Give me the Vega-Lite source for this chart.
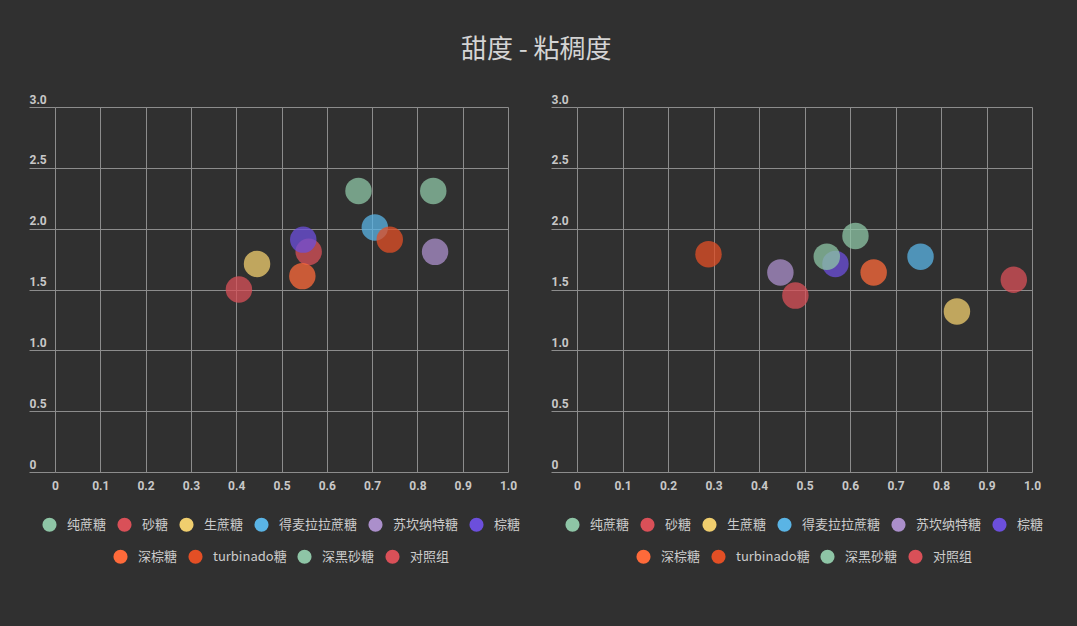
{
  "$schema": "https://vega.github.io/schema/vega-lite/v6.json",
  "background": "#303030",
  "padding": {"left": 28, "top": 37, "right": 37, "bottom": 62},
  "title": {
    "text": "甜度 - 粘稠度",
    "font": "Noto Sans CJK SC",
    "fontSize": 26,
    "fontWeight": "normal",
    "color": "#d4d4d4",
    "anchor": "middle",
    "offset": 30
  },
  "data": {
    "values": [
      {"panel": "A", "sugar": "纯蔗糖", "sweetness": 0.67, "viscosity": 2.31},
      {"panel": "A", "sugar": "砂糖", "sweetness": 0.56, "viscosity": 1.81},
      {"panel": "A", "sugar": "生蔗糖", "sweetness": 0.446, "viscosity": 1.71},
      {"panel": "A", "sugar": "得麦拉拉蔗糖", "sweetness": 0.706, "viscosity": 2.01},
      {"panel": "A", "sugar": "苏坎纳特糖", "sweetness": 0.839, "viscosity": 1.81},
      {"panel": "A", "sugar": "棕糖", "sweetness": 0.548, "viscosity": 1.91},
      {"panel": "A", "sugar": "深棕糖", "sweetness": 0.546, "viscosity": 1.61},
      {"panel": "A", "sugar": "turbinado糖", "sweetness": 0.739, "viscosity": 1.91},
      {"panel": "A", "sugar": "深黑砂糖", "sweetness": 0.835, "viscosity": 2.31},
      {"panel": "A", "sugar": "对照组", "sweetness": 0.406, "viscosity": 1.5},
      {"panel": "B", "sugar": "纯蔗糖", "sweetness": 0.612, "viscosity": 1.94},
      {"panel": "B", "sugar": "砂糖", "sweetness": 0.48, "viscosity": 1.45},
      {"panel": "B", "sugar": "生蔗糖", "sweetness": 0.835, "viscosity": 1.32},
      {"panel": "B", "sugar": "得麦拉拉蔗糖", "sweetness": 0.755, "viscosity": 1.77},
      {"panel": "B", "sugar": "苏坎纳特糖", "sweetness": 0.447, "viscosity": 1.64},
      {"panel": "B", "sugar": "棕糖", "sweetness": 0.568, "viscosity": 1.71},
      {"panel": "B", "sugar": "深棕糖", "sweetness": 0.652, "viscosity": 1.64},
      {"panel": "B", "sugar": "turbinado糖", "sweetness": 0.289, "viscosity": 1.79},
      {"panel": "B", "sugar": "深黑砂糖", "sweetness": 0.549, "viscosity": 1.77},
      {"panel": "B", "sugar": "对照组", "sweetness": 0.96, "viscosity": 1.58}
    ]
  },
  "bounds": "flush",
  "spacing": 69,
  "resolve": {"legend": {"color": "independent", "fill": "independent"}},
  "hconcat": [
    {
      "width": 453,
      "height": 365,
      "transform": [{"filter": "datum.panel === 'A'"}],
      "encoding": {
        "x": {
          "field": "sweetness",
          "type": "quantitative",
          "scale": {"domain": [0, 1], "nice": false},
          "axis": {"values": [0, 0.1, 0.2, 0.3, 0.4, 0.5, 0.6, 0.7, 0.8, 0.9, 1]}
        },
        "y": {
          "field": "viscosity",
          "type": "quantitative",
          "scale": {"domain": [0, 3], "nice": false},
          "axis": {"values": [0, 0.5, 1, 1.5, 2, 2.5, 3]}
        }
      },
      "layer": [
        {
          "transform": [{"filter": {"field": "sugar", "oneOf": ["纯蔗糖", "砂糖", "生蔗糖", "得麦拉拉蔗糖", "苏坎纳特糖", "棕糖"]}}],
          "mark": {"type": "circle", "size": 700, "opacity": 0.75},
          "encoding": {
            "color": {
              "field": "sugar",
              "type": "nominal",
              "scale": {
                "domain": ["纯蔗糖", "砂糖", "生蔗糖", "得麦拉拉蔗糖", "苏坎纳特糖", "棕糖"],
                "range": ["#8ec5a6", "#d95058", "#f0ce6e", "#5ab4e5", "#ab8fcb", "#6c4fdc"]
              }
            }
          }
        },
        {
          "transform": [{"filter": {"field": "sugar", "oneOf": ["深棕糖", "turbinado糖", "深黑砂糖", "对照组"]}}],
          "mark": {"type": "circle", "size": 700, "opacity": 0.75},
          "encoding": {
            "fill": {
              "field": "sugar",
              "type": "nominal",
              "scale": {
                "domain": ["深棕糖", "turbinado糖", "深黑砂糖", "对照组"],
                "range": ["#fe6a3a", "#e34f25", "#8ec5a6", "#d95058"]
              }
            }
          }
        }
      ]
    },
    {
      "width": 455,
      "height": 365,
      "transform": [{"filter": "datum.panel === 'B'"}],
      "encoding": {
        "x": {
          "field": "sweetness",
          "type": "quantitative",
          "scale": {"domain": [0, 1], "nice": false},
          "axis": {"values": [0, 0.1, 0.2, 0.3, 0.4, 0.5, 0.6, 0.7, 0.8, 0.9, 1]}
        },
        "y": {
          "field": "viscosity",
          "type": "quantitative",
          "scale": {"domain": [0, 3], "nice": false},
          "axis": {"values": [0, 0.5, 1, 1.5, 2, 2.5, 3]}
        }
      },
      "layer": [
        {
          "transform": [{"filter": {"field": "sugar", "oneOf": ["纯蔗糖", "砂糖", "生蔗糖", "得麦拉拉蔗糖", "苏坎纳特糖", "棕糖"]}}],
          "mark": {"type": "circle", "size": 700, "opacity": 0.75},
          "encoding": {
            "color": {
              "field": "sugar",
              "type": "nominal",
              "scale": {
                "domain": ["纯蔗糖", "砂糖", "生蔗糖", "得麦拉拉蔗糖", "苏坎纳特糖", "棕糖"],
                "range": ["#8ec5a6", "#d95058", "#f0ce6e", "#5ab4e5", "#ab8fcb", "#6c4fdc"]
              }
            }
          }
        },
        {
          "transform": [{"filter": {"field": "sugar", "oneOf": ["深棕糖", "turbinado糖", "深黑砂糖", "对照组"]}}],
          "mark": {"type": "circle", "size": 700, "opacity": 0.75},
          "encoding": {
            "fill": {
              "field": "sugar",
              "type": "nominal",
              "scale": {
                "domain": ["深棕糖", "turbinado糖", "深黑砂糖", "对照组"],
                "range": ["#fe6a3a", "#e34f25", "#8ec5a6", "#d95058"]
              }
            }
          }
        }
      ]
    }
  ],
  "config": {
    "view": {"stroke": null},
    "axis": {
      "title": null,
      "grid": true,
      "gridColor": "#8c8c8c",
      "gridWidth": 1,
      "domain": false,
      "labelFont": "Roboto",
      "labelFontSize": 12,
      "labelFontWeight": "bold",
      "labelColor": "#c8c8c8",
      "labelFlush": false,
      "labelOverlap": false,
      "labelBound": false,
      "labelExpr": "datum.value === 0 ? '0' : format(datum.value, '.1f')"
    },
    "axisX": {
      "ticks": false,
      "labelPadding": 8
    },
    "axisY": {
      "ticks": true,
      "tickSize": 26,
      "tickColor": "#8c8c8c",
      "labelPadding": 0,
      "labelAlign": "left",
      "labelBaseline": "bottom",
      "labelOffset": -1
    },
    "legend": {
      "orient": "bottom",
      "direction": "horizontal",
      "layout": {"bottom": {"anchor": "middle", "direction": "vertical", "center": true, "margin": 17}},
      "title": null,
      "symbolType": "circle",
      "symbolSize": 200,
      "symbolOpacity": 1,
      "symbolStrokeWidth": 0,
      "labelFont": "Noto Sans CJK SC",
      "labelFontSize": 13,
      "labelColor": "#cccccc",
      "labelOffset": 10,
      "columnPadding": 10,
      "offset": 26
    }
  }
}
